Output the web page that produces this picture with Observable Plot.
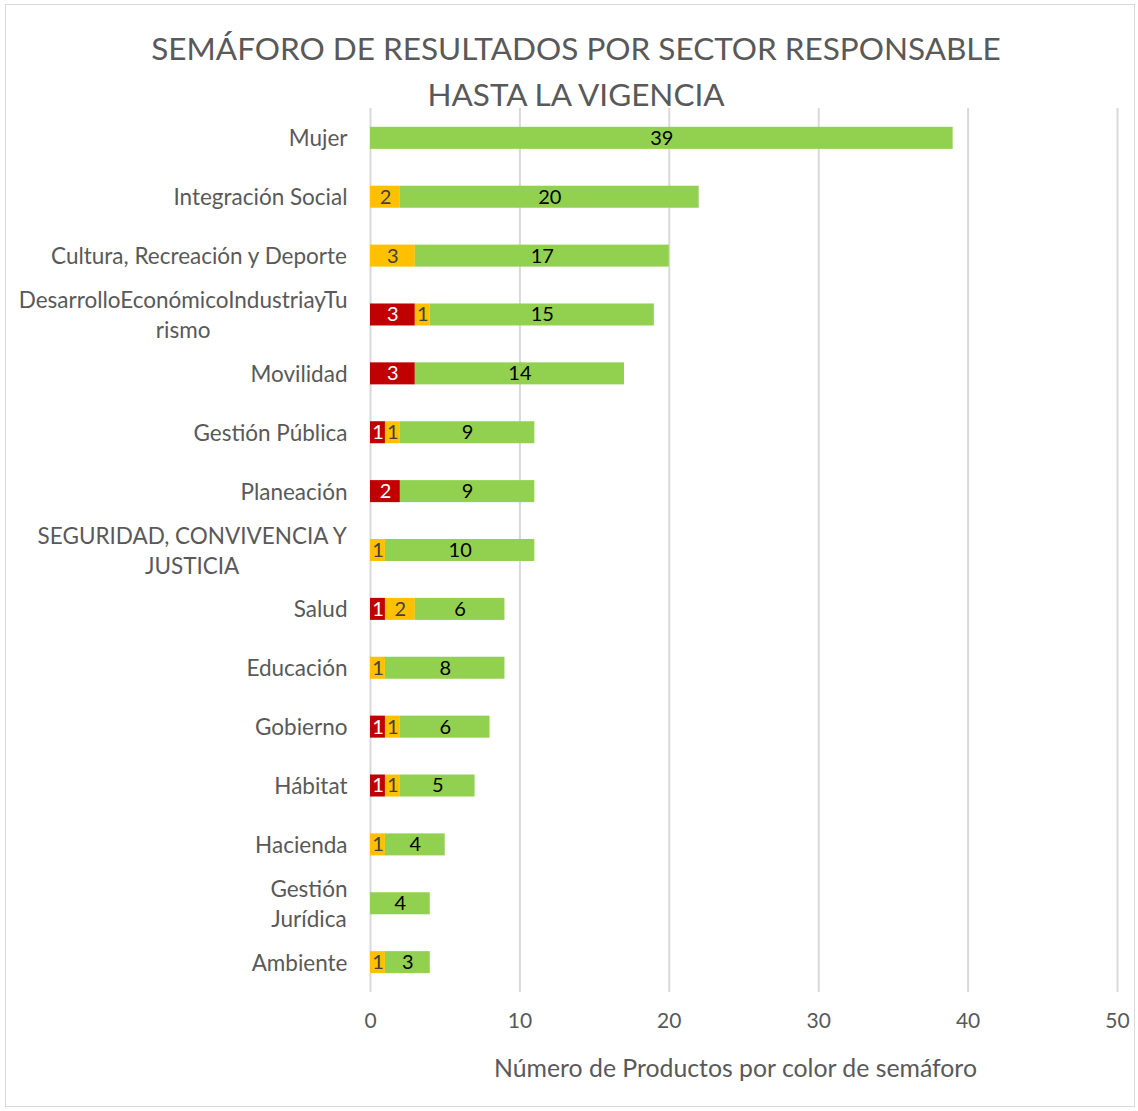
<!DOCTYPE html>
<html>
<head>
<meta charset="utf-8">
<script src="https://cdn.jsdelivr.net/npm/d3@7"></script>
<script src="https://cdn.jsdelivr.net/npm/@observablehq/plot@0.6"></script>
<style>
  html, body { margin: 0; padding: 0; background: #fff; }
  #page { position: relative; width: 1138px; height: 1111px; overflow: hidden; font-family: Lato, "Open Sans", sans-serif; }
  #border { position: absolute; left: 5px; top: 4px; width: 1130px; height: 1103px; border: 1px solid #d9d9d9; box-sizing: border-box; }
  #title { position: absolute; left: 0; width: 1152px; top: 25px; text-align: center; font-size: 31.5px; line-height: 46px; color: #595959; }
  #chart { position: absolute; left: 0; top: 100px; }
  #xlabel { position: absolute; left: 362px; width: 747px; top: 1053px; text-align: center; font-size: 24.8px; line-height: 30px; color: #595959; }
</style>
</head>
<body>
<div id="page">
  <div id="border"></div>
  <div id="chart"></div>
  <div id="title">SEMÁFORO DE RESULTADOS POR SECTOR RESPONSABLE<br>HASTA LA VIGENCIA</div>
  <div id="xlabel">Número de Productos por color de semáforo</div>
</div>
<script>
const categories = [
  "Mujer",
  "Integración Social",
  "Cultura, Recreación y Deporte",
  "DesarrolloEconómicoIndustriayTu\nrismo",
  "Movilidad",
  "Gestión Pública",
  "Planeación",
  "SEGURIDAD, CONVIVENCIA Y\nJUSTICIA",
  "Salud",
  "Educación",
  "Gobierno",
  "Hábitat",
  "Hacienda",
  "Gestión\nJurídica",
  "Ambiente"
];
const rojo     = [0, 0, 0, 3, 3, 1, 2, 0, 1, 0, 1, 1, 0, 0, 0];
const amarillo = [0, 2, 3, 1, 0, 1, 0, 1, 2, 1, 1, 1, 1, 0, 1];
const verde    = [39, 20, 17, 15, 14, 9, 9, 10, 6, 8, 6, 5, 4, 4, 3];
const seriesNames = ["Rojo", "Amarillo", "Verde"];
const seriesColors = ["#C00000", "#FFC000", "#92D050"];
const labelColors = ["#ffffff", "#404040", "#000000"];
const xTicks = [0, 10, 20, 30, 40, 50];

const seriesValues = [rojo, amarillo, verde];
const rows = [];
categories.forEach((cat, i) => {
  let cum = 0;
  seriesNames.forEach((s, j) => {
    const v = seriesValues[j][i];
    rows.push({cat, series: s, value: v, x1: cum, x2: cum + v, j});
    cum += v;
  });
});

const fontSize = 22.5;
const canvas = document.createElement("canvas");
const ctx = canvas.getContext("2d");
ctx.font = `${fontSize}px Lato`;
const marginLeft = 370;
const labelRight = 347;

const labelMarks = categories.map(cat => {
  const w = Math.max(...cat.split("\n").map(l => ctx.measureText(l).width));
  return Plot.text([cat], {
    y: d => d,
    text: d => d,
    frameAnchor: "left",
    dx: labelRight - w / 2 - marginLeft,
    dy: -1.5,
    textAnchor: "middle",
    lineAnchor: "middle",
    lineHeight: 30 / fontSize,
    fill: "#595959",
    fontSize: fontSize
  });
});

const valueMarks = seriesNames.map((s, j) =>
  Plot.text(rows.filter(d => d.series === s && d.value > 0), {
    x: d => (d.x1 + d.x2) / 2,
    y: "cat",
    text: d => String(d.value),
    fill: labelColors[j],
    fontSize: 20,
    dy: 0
  })
);

const chart = Plot.plot({
  width: 1138,
  height: 1009,
  marginTop: 8,
  marginBottom: 117,
  marginLeft: marginLeft,
  marginRight: 21,
  style: {fontFamily: "Lato, 'Open Sans', sans-serif", fontSize: "21px", color: "#595959", background: "transparent"},
  x: {domain: [0, 50], ticks: xTicks, tickSize: 0, tickPadding: 21, label: null},
  y: {domain: categories, axis: null, paddingInner: 0.626, paddingOuter: 0.32, round: false},
  color: {domain: seriesNames, range: seriesColors},
  marks: [
    Plot.ruleX(xTicks, {stroke: "#d9d9d9", strokeWidth: 2}),
    Plot.barX(rows.filter(d => d.value > 0), {x1: "x1", x2: "x2", y: "cat", fill: "series"}),
    ...valueMarks,
    ...labelMarks
  ]
});
document.getElementById("chart").appendChild(chart);
</script>
</body>
</html>
